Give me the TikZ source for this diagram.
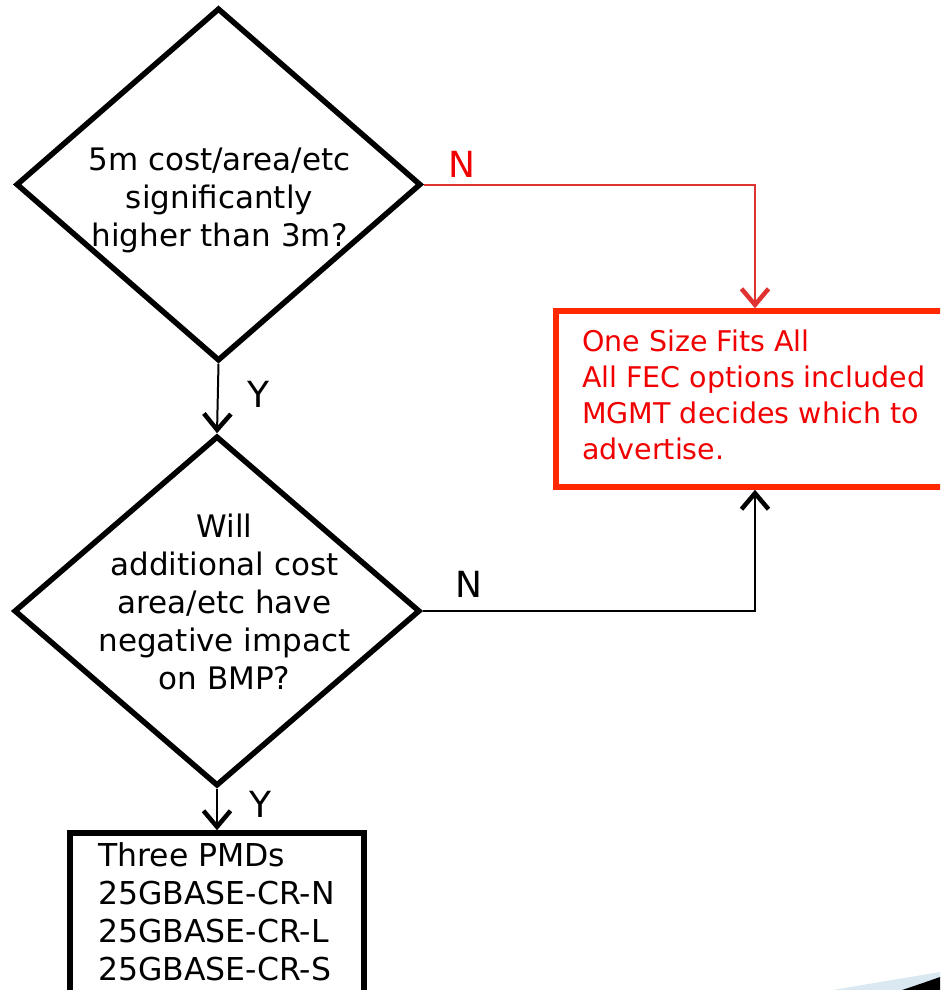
\documentclass[tikz,border=0pt]{standalone}
\usepackage{fontspec}
\setmainfont{DejaVu Sans}
\usetikzlibrary{arrows.meta,shapes.geometric}
\definecolor{boxred}{RGB}{255,40,0}
\definecolor{txtred}{RGB}{240,0,0}
\definecolor{arrred}{RGB}{225,50,50}
\definecolor{swblue}{RGB}{218,232,242}
\tikzset{
  dia/.style={draw=black, line width=5.5pt, shape=diamond, inner sep=0pt},
  txt/.style={inner sep=0pt, align=center, font=\fontsize{31}{38}\selectfont},
  lbl/.style={inner sep=0pt, font=\fontsize{36}{40}\selectfont},
  vtip/.style={-{Straight Barb[length=16pt,width=27pt,line width=4.5pt]}},
  conn/.style={line width=2pt, vtip},
}
\begin{document}
\begin{tikzpicture}[x=1pt,y=-1pt]
\useasboundingbox (0,0) rectangle (940,990);
\clip (0,0) rectangle (940,990);
% diamonds
\node[dia, minimum width=405pt, minimum height=353pt] (d1) at (218.5,184.5) {};
\node[txt] (t1) at (219.5,200) {5m cost/area/etc\\significantly\\higher than 3m?};
\node[dia, minimum width=406pt, minimum height=350pt] (d2) at (217,611) {};
\node[txt] (t2) at (224.5,602) {Will\\additional cost\\area/etc have\\negative impact\\on BMP?};
% red box
\node[draw=boxred, line width=5.5pt, minimum width=398pt, minimum height=176pt, inner sep=0pt] (r) at (755,399) {};
\node[inner sep=0pt, align=left, anchor=west, text=txtred, font=\fontsize{28.5}{35.8}\selectfont] (rt) at (582,395) {One Size Fits All\\All FEC options included\\MGMT decides which to\\advertise.};
% bottom box
\node[draw=black, line width=5.5pt, minimum width=294pt, minimum height=170pt, inner sep=0pt] (b) at (217,918) {};
\node[inner sep=0pt, align=left, anchor=north west, font=\fontsize{31.5}{38}\selectfont] (bt) at (98,842) {Three PMDs\\25GBASE-CR-N\\25GBASE-CR-L\\25GBASE-CR-S};
% connectors
\draw[conn] (d1.south) -- (d2.north);
\draw[conn] (d2.south) -- (b.north);
\draw[conn, draw=arrred] (d1.east) -| (r.north);
\draw[conn] (d2.east) -| (r.south);
% labels
\node[lbl, anchor=base west] (y1) at (247,407) {Y};
\node[lbl, anchor=base west] (y2) at (249,817) {Y};
\node[lbl, anchor=base west, text=txtred] (n1) at (448,177) {N};
\node[lbl, anchor=base west] (n2) at (455,597) {N};
% swoosh
\fill[swblue] (833,990) .. controls (880,982) .. (940,972) -- (940,990) -- cycle;
\fill[black] (902,990) .. controls (920,984) .. (940,977) -- (940,990) -- cycle;
\end{tikzpicture}
\end{document}
